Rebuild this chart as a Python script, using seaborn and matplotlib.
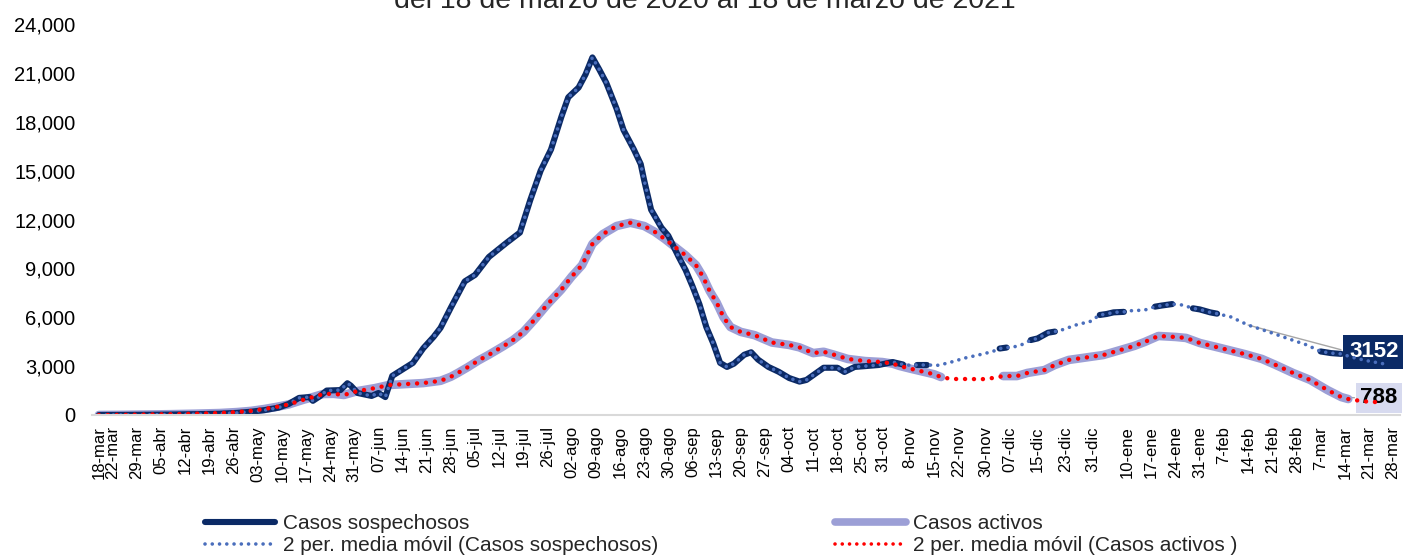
import numpy as np
import pandas as pd
import matplotlib
matplotlib.use("Agg")
import matplotlib.pyplot as plt
import matplotlib.dates as mdates
from matplotlib.lines import Line2D
from matplotlib.ticker import FuncFormatter
import seaborn as sns

# ---------------- data ----------------
titulo = "del 18 de marzo de 2020 al 18 de marzo de 2021"
inicio = "2020-03-18"

# Casos sospechosos: days since 18-mar-2020, value, 1 = daily value reported (solid line)
dias_sosp = [0, 7, 14, 21, 28, 35, 40, 44, 48, 52, 55, 58, 61, 62, 64, 66, 70, 72, 73, 75,
             79, 81, 83, 85, 88, 91, 94, 97, 99, 102, 106, 109, 113, 118, 122, 125, 128, 131,
             134, 136, 139, 141, 143, 145, 147, 150, 152, 155, 157, 158, 160, 163, 165, 168,
             170, 172, 174, 176, 178, 180, 182, 184, 187, 189, 191, 194, 197, 200, 203, 205,
             207, 210, 214, 216, 219, 222, 226, 230, 233, 235, 237, 240, 243, 246, 251, 256,
             259, 261, 263, 265, 268, 270, 272, 275, 277, 279, 284, 287, 290, 292, 294, 297,
             299, 303, 306, 308, 311, 314, 317, 319, 322, 324, 328, 333, 339, 344, 350, 354,
             357, 360, 363, 367, 372]
casos_sosp = [0, 5, 15, 30, 50, 80, 130, 200, 300, 450, 680, 1050, 1100, 870, 1150, 1500, 1530,
              1950, 1800, 1350, 1170, 1350, 1100, 2400, 2800, 3200, 4100, 4800, 5350, 6600, 8200,
              8600, 9700, 10550, 11200, 13200, 15000, 16300, 18300, 19500, 20100, 20900, 21950,
              21200, 20400, 18800, 17500, 16300, 15400, 14400, 12600, 11500, 11000, 9700, 8900,
              7900, 6800, 5400, 4400, 3200, 2950, 3150, 3700, 3850, 3400, 2950, 2650, 2270, 2050,
              2150, 2450, 2900, 2900, 2640, 2950, 3000, 3070, 3250, 3100, 3050, 3070, 3070, 3050,
              3190, 3500, 3740, 3900, 4080, 4140, 4170, 4360, 4600, 4700, 5050, 5120, 5220, 5590,
              5710, 6140, 6200, 6300, 6330, 6400, 6440, 6650, 6720, 6810, 6750, 6550, 6480, 6300,
              6220, 6020, 5520, 5100, 4730, 4300, 3900, 3800, 3750, 3550, 3350, 3152]
rep_sosp = [1] * 79 + [0, 1, 1, 0, 0, 0, 0, 0, 1, 1, 0, 0, 1, 1, 1, 1, 0, 0, 0, 1, 1, 1, 1,
                       0, 0, 1, 1, 1, 0, 1, 1, 1, 1, 0, 0, 0, 0, 0, 1, 1, 1, 0, 0, 0]

# Casos activos
dias_act = [0, 7, 14, 21, 28, 35, 40, 44, 48, 52, 55, 59, 62, 65, 68, 71, 73, 75, 80, 84, 89,
            94, 99, 102, 104, 107, 110, 113, 117, 120, 123, 126, 130, 134, 137, 140, 143, 146,
            150, 154, 158, 161, 164, 167, 170, 173, 175, 177, 179, 181, 183, 186, 190, 195, 200,
            203, 207, 210, 213, 217, 222, 227, 230, 232, 235, 238, 242, 244, 247, 251, 256, 259,
            262, 266, 269, 274, 277, 281, 285, 291, 296, 300, 303, 307, 312, 315, 319, 325, 332,
            337, 341, 346, 351, 356, 360, 362, 366, 369, 372]
casos_act = [0, 10, 30, 50, 80, 120, 180, 250, 370, 520, 650, 920, 1100, 1290, 1300, 1230, 1350,
             1470, 1650, 1840, 1900, 1960, 2100, 2350, 2580, 2950, 3350, 3700, 4200, 4600, 5100,
             5800, 6800, 7700, 8500, 9200, 10500, 11100, 11600, 11800, 11600, 11250, 10800,
             10300, 9800, 9200, 8500, 7600, 6900, 6000, 5400, 5100, 4900, 4450, 4300, 4150, 3800,
             3880, 3700, 3440, 3310, 3250, 3150, 3010, 2850, 2700, 2500, 2330, 2210, 2210, 2200,
             2270, 2390, 2390, 2580, 2760, 3070, 3380, 3500, 3680, 3990, 4240, 4480, 4850, 4790,
             4730, 4420, 4110, 3740, 3440, 3070, 2580, 2150, 1530, 1100, 980, 850, 800, 788]
rep_act = [1] * 68 + [0, 0, 0, 0] + [1] * 24 + [0, 0, 0]

etiquetas_x = ["18-mar", "22-mar", "29-mar", "05-abr", "12-abr", "19-abr", "26-abr", "03-may",
               "10-may", "17-may", "24-may", "31-may", "07-jun", "14-jun", "21-jun", "28-jun",
               "05-jul", "12-jul", "19-jul", "26-jul", "02-ago", "09-ago", "16-ago", "23-ago",
               "30-ago", "06-sep", "13-sep", "20-sep", "27-sep", "04-oct", "11-oct", "18-oct",
               "25-oct", "31-oct", "8-nov", "15-nov", "22-nov", "30-nov", "07-dic", "15-dic",
               "23-dic", "31-dic", "10-ene", "17-ene", "24-ene", "31-ene", "7-feb", "14-feb",
               "21-feb", "28-feb", "7-mar", "14-mar", "21-mar", "28-mar"]
fechas_etiquetas = ["2020-03-18", "2020-03-22", "2020-03-29", "2020-04-05", "2020-04-12",
                    "2020-04-19", "2020-04-26", "2020-05-03", "2020-05-10", "2020-05-17",
                    "2020-05-24", "2020-05-31", "2020-06-07", "2020-06-14", "2020-06-21",
                    "2020-06-28", "2020-07-05", "2020-07-12", "2020-07-19", "2020-07-26",
                    "2020-08-02", "2020-08-09", "2020-08-16", "2020-08-23", "2020-08-30",
                    "2020-09-06", "2020-09-13", "2020-09-20", "2020-09-27", "2020-10-04",
                    "2020-10-11", "2020-10-18", "2020-10-25", "2020-10-31", "2020-11-08",
                    "2020-11-15", "2020-11-22", "2020-11-30", "2020-12-07", "2020-12-15",
                    "2020-12-23", "2020-12-31", "2021-01-10", "2021-01-17", "2021-01-24",
                    "2021-01-31", "2021-02-07", "2021-02-14", "2021-02-21", "2021-02-28",
                    "2021-03-07", "2021-03-14", "2021-03-21", "2021-03-28"]

leyenda = ["Casos sospechosos", "2 per. media móvil (Casos sospechosos)",
           "Casos activos", "2 per. media móvil (Casos activos )"]

# ---------------- styling ----------------
C_SOSP = "#0B2A66"
C_SOSP_MA = "#4A6EBC"
C_ACT = "#9C9FD6"
C_ACT_MA = "#FF0000"

sns.set_theme(style="white")
plt.rcParams["font.family"] = ["Liberation Sans", "DejaVu Sans"]

base = pd.Timestamp(inicio)


def frame(dias, valores, rep):
    df = pd.DataFrame({"fecha": base + pd.to_timedelta(dias, unit="D"),
                       "valor": valores, "rep": rep})
    df["seg"] = (df["rep"].diff().fillna(0) != 0).cumsum()
    return df


df_s = frame(dias_sosp, casos_sosp, rep_sosp)
df_a = frame(dias_act, casos_act, rep_act)

fig = plt.figure(figsize=(14.03, 5.6), dpi=100)
ax = fig.add_axes([92 / 1403, 145 / 560, 1308 / 1403, 391 / 560])

dot = (0, (0.01, 2.0))
sns.lineplot(data=df_a[df_a.rep == 1], x="fecha", y="valor", units="seg", estimator=None,
             sort=False, color=C_ACT, lw=6.2, solid_capstyle="round", solid_joinstyle="round",
             ax=ax, legend=False)
sns.lineplot(data=df_s[df_s.rep == 1], x="fecha", y="valor", units="seg", estimator=None,
             sort=False, color=C_SOSP, lw=4.4, solid_capstyle="round", solid_joinstyle="round",
             ax=ax, legend=False)
sns.lineplot(data=df_s, x="fecha", y="valor", estimator=None, sort=False, color=C_SOSP_MA,
             lw=2.6, linestyle=dot, dash_capstyle="round", ax=ax, legend=False)
sns.lineplot(data=df_a, x="fecha", y="valor", estimator=None, sort=False, color=C_ACT_MA,
             lw=3.2, linestyle=dot, dash_capstyle="round", ax=ax, legend=False)

# axes
ax.set_ylim(0, 24000)
ax.set_yticks(np.arange(0, 24001, 3000))
ax.yaxis.set_major_formatter(FuncFormatter(lambda v, _: f"{v:,.0f}"))
ax.set_xlim(base - pd.Timedelta(days=2), base + pd.Timedelta(days=377))
ax.set_xticks(pd.to_datetime(fechas_etiquetas))
ax.set_xticklabels(etiquetas_x, rotation=90)
ax.xaxis.set_minor_locator(mdates.DayLocator())
ax.set_xlabel("")
ax.set_ylabel("")
for s in ["top", "right", "left"]:
    ax.spines[s].set_visible(False)
ax.spines["bottom"].set_color("#D9D9D9")
ax.spines["bottom"].set_linewidth(1.5)
ax.tick_params(axis="y", length=0, pad=12, labelsize=14.5, labelcolor="black")
ax.tick_params(axis="x", which="major", length=0, pad=8, labelsize=12, labelcolor="black")
ax.tick_params(axis="x", which="minor", length=5, width=0.8, color="#D9D9D9", direction="out")
ax.grid(False)

# data labels
last_s = df_s.iloc[-1]
last_a = df_a.iloc[-1]
lab_s = ax.annotate(f"{casos_sosp[-1]}", xy=(last_s.fecha, last_s.valor),
                    xytext=(-6.5, 8.5), textcoords="offset points", ha="center", va="center",
                    fontsize=16, fontweight="bold", color="white", zorder=1,
                    bbox=dict(boxstyle="square,pad=0.28", fc=C_SOSP, ec="none"))
lab_a = ax.annotate(f"{casos_act[-1]}", xy=(last_a.fecha, last_a.valor),
                    xytext=(-3, 3), textcoords="offset points", ha="center", va="center",
                    fontsize=16, fontweight="bold", color="black", zorder=1,
                    bbox=dict(boxstyle="square,pad=0.2", fc="#D7DAEF", ec="none"))
# leader lines
i_s = dias_sosp.index(333)
ax.annotate("", xy=(0, 0.5), xycoords=lab_s, xytext=(df_s.fecha[i_s], df_s.valor[i_s]),
            textcoords="data", zorder=1,
            arrowprops=dict(arrowstyle="-", color="#A6A6A6", lw=1, shrinkA=0, shrinkB=6))
i_a = dias_act.index(360)
ax.annotate("", xy=(0, 0.5), xycoords=lab_a, xytext=(df_a.fecha[i_a], df_a.valor[i_a]),
            textcoords="data", zorder=1,
            arrowprops=dict(arrowstyle="-", color="#A6A6A6", lw=1, shrinkA=0, shrinkB=4))

# title (partly cut at top as in the reference)
fig.text(705 / 1403, 1 - 8 / 560, titulo, ha="center", va="baseline", fontsize=20.5,
         color="#262626")

# legend
handles = [
    Line2D([], [], color=C_SOSP, lw=4.4, solid_capstyle="round"),
    Line2D([], [], color=C_SOSP_MA, lw=2.6, linestyle=dot, dash_capstyle="round"),
    Line2D([], [], color=C_ACT, lw=5.5, solid_capstyle="round"),
    Line2D([], [], color=C_ACT_MA, lw=2.6, linestyle=dot, dash_capstyle="round"),
]
fig.legend(handles, leyenda, ncol=2, loc="center", bbox_to_anchor=(0.514, 0.045),
           frameon=False, fontsize=15, handlelength=3.4, handletextpad=0.35,
           columnspacing=8.5, labelspacing=0.15)

fig.savefig("out.png", dpi=100)
